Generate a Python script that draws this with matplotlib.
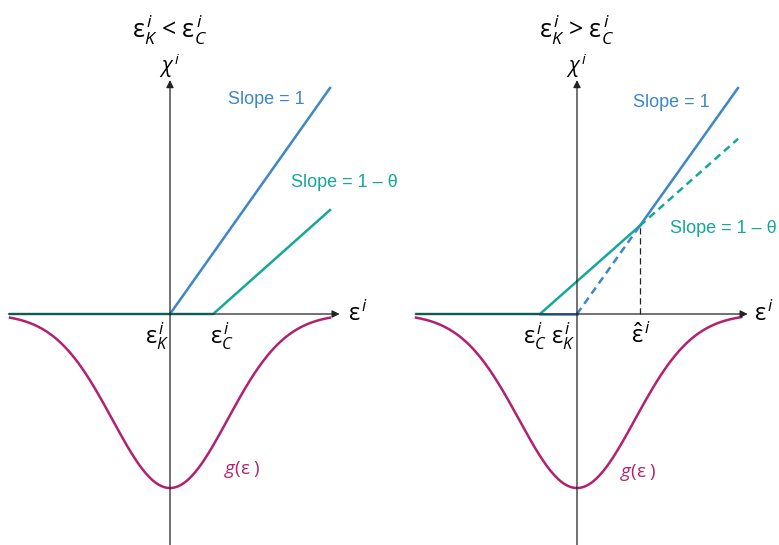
#!/usr/bin/env python3

import numpy as np
import matplotlib
matplotlib.use("Agg")
import matplotlib.pyplot as plt

plt.rcParams['font.family'] = ['Open Sans', 'DejaVu Sans']
plt.rcParams['mathtext.fontset'] = 'custom'
plt.rcParams['mathtext.rm'] = 'Open Sans'
plt.rcParams['mathtext.it'] = 'Open Sans:italic'

BLUE = "#3d86c8"
TEAL = "#14a898"
MAGENTA = "#b2216f"
SLOPE_FONT = ['Liberation Sans', 'DejaVu Sans']

# --- left panel: eps_K < eps_C ---
left_blue_x = [0.0, 1.0]
left_blue_y = [0.0, 1.0]
left_teal_x = [-1.0, 0.27, 1.0]
left_teal_y = [0.0, 0.0, 0.46]

# --- right panel: eps_K > eps_C ---
right_flat_blue_x = [-0.23, 0.0]
right_blue_dash_x = [0.0, 0.39]
right_blue_dash_y = [0.0, 0.39]
right_blue_x = [0.39, 1.0]
right_blue_y = [0.39, 1.0]
right_teal_x = [-1.0, -0.23, 0.39]
right_teal_y = [0.0, 0.0, 0.39]
right_teal_dash_x = [0.39, 1.0]
right_teal_dash_y = [0.39, 0.775]
eps_hat = 0.39

# g(eps) curve: depth and width
g_depth = 0.77
g_sigma = 0.36


def g_curve(x0, x1):
    x = np.linspace(x0, x1, 300)
    return x, -g_depth * np.exp(-x ** 2 / (2 * g_sigma ** 2))


def draw_axes(ax, x_lo, x_tip):
    arrow = dict(arrowstyle='-|>', color='#222222', lw=0.9, mutation_scale=11,
                 shrinkA=0, shrinkB=0)
    ax.annotate('', xy=(x_tip, 0), xytext=(x_lo, 0), arrowprops=arrow)
    ax.annotate('', xy=(0, 1.035), xytext=(0, -1.05), arrowprops=arrow)


def eps(sub='', hat=False):
    base = r'\mathrm{ε}'
    if hat:
        base = r'\hat{\mathrm{ε}}'
    if sub:
        return r'$%s^{\,i}_{%s}$' % (base, sub)
    return r'$%s^{\,i}$' % base


fig = plt.figure(figsize=(7.79, 5.45), dpi=100)
ylim = (-231 / 226, 314 / 226)

# left panel
ax1 = fig.add_axes([0, 0, 389 / 779, 1])
ax1.set_xlim(-170 / 160, 219 / 160)
ax1.set_ylim(*ylim)
ax1.axis('off')
draw_axes(ax1, -1.01, 1.06)
gx, gy = g_curve(-1.0, 1.0)
ax1.plot(gx, gy, color=MAGENTA, lw=1.8)
ax1.plot(left_blue_x, left_blue_y, color=BLUE, lw=1.8)
ax1.plot(left_teal_x, left_teal_y, color=TEAL, lw=1.8)

ax1.text(0, 1.257, eps('K') + ' < ' + eps('C'), ha='center', va='center', fontsize=18)
ax1.text(0, 1.1, r'$\chi^{\,i}$', ha='center', va='center', fontsize=15)
ax1.text(0.6, 0.947, 'Slope = 1', color=BLUE, ha='center', va='center',
         fontsize=13, family=SLOPE_FONT)
ax1.text(1.09, 0.58, 'Slope = 1 – θ', color=TEAL, ha='center', va='center',
         fontsize=13, family=SLOPE_FONT)
ax1.text(1.11, 0.0, eps(), ha='left', va='center', fontsize=17)
ax1.text(-0.08, -0.1, eps('K'), ha='center', va='center', fontsize=17)
ax1.text(0.325, -0.1, eps('C'), ha='center', va='center', fontsize=17)
ax1.text(0.45, -0.69, r'$g$(ε )', color=MAGENTA, ha='center', va='center', fontsize=13.5)

# right panel
ax2 = fig.add_axes([389 / 779, 0, 390 / 779, 1])
ax2.set_xlim(-(577 - 389) / 161, (779 - 577) / 161)
ax2.set_ylim(*ylim)
ax2.axis('off')
draw_axes(ax2, -1.0, 1.06)
gx, gy = g_curve(-1.0, 1.02)
ax2.plot(gx, gy, color=MAGENTA, lw=1.8)
ax2.plot(right_teal_x, right_teal_y, color=TEAL, lw=1.8)
ax2.plot(right_flat_blue_x, [0, 0], color=BLUE, lw=1.8)
ax2.plot(right_blue_dash_x, right_blue_dash_y, color=BLUE, lw=1.8, ls=(0, (3, 2)))
ax2.plot(right_blue_x, right_blue_y, color=BLUE, lw=1.8)
ax2.plot(right_teal_dash_x, right_teal_dash_y, color=TEAL, lw=1.8, ls=(0, (3, 2)))
ax2.plot([eps_hat, eps_hat], [0, eps_hat], color='#222222', lw=0.9, ls=(0, (5, 3)))

ax2.text(0, 1.257, eps('K') + ' > ' + eps('C'), ha='center', va='center', fontsize=18)
ax2.text(0, 1.1, r'$\chi^{\,i}$', ha='center', va='center', fontsize=15)
ax2.text(0.584, 0.934, 'Slope = 1', color=BLUE, ha='center', va='center',
         fontsize=13, family=SLOPE_FONT)
ax2.text(0.91, 0.38, 'Slope = 1 – θ', color=TEAL, ha='center', va='center',
         fontsize=13, family=SLOPE_FONT)
ax2.text(1.1, 0.0, eps(), ha='left', va='center', fontsize=17)
ax2.text(-0.26, -0.1, eps('C'), ha='center', va='center', fontsize=17)
ax2.text(-0.087, -0.1, eps('K'), ha='center', va='center', fontsize=17)
ax2.text(0.4, -0.1, eps(hat=True), ha='center', va='center', fontsize=17)
ax2.text(0.38, -0.70, r'$g$(ε )', color=MAGENTA, ha='center', va='center', fontsize=13.5)

fig.savefig('out.png', dpi=100)
